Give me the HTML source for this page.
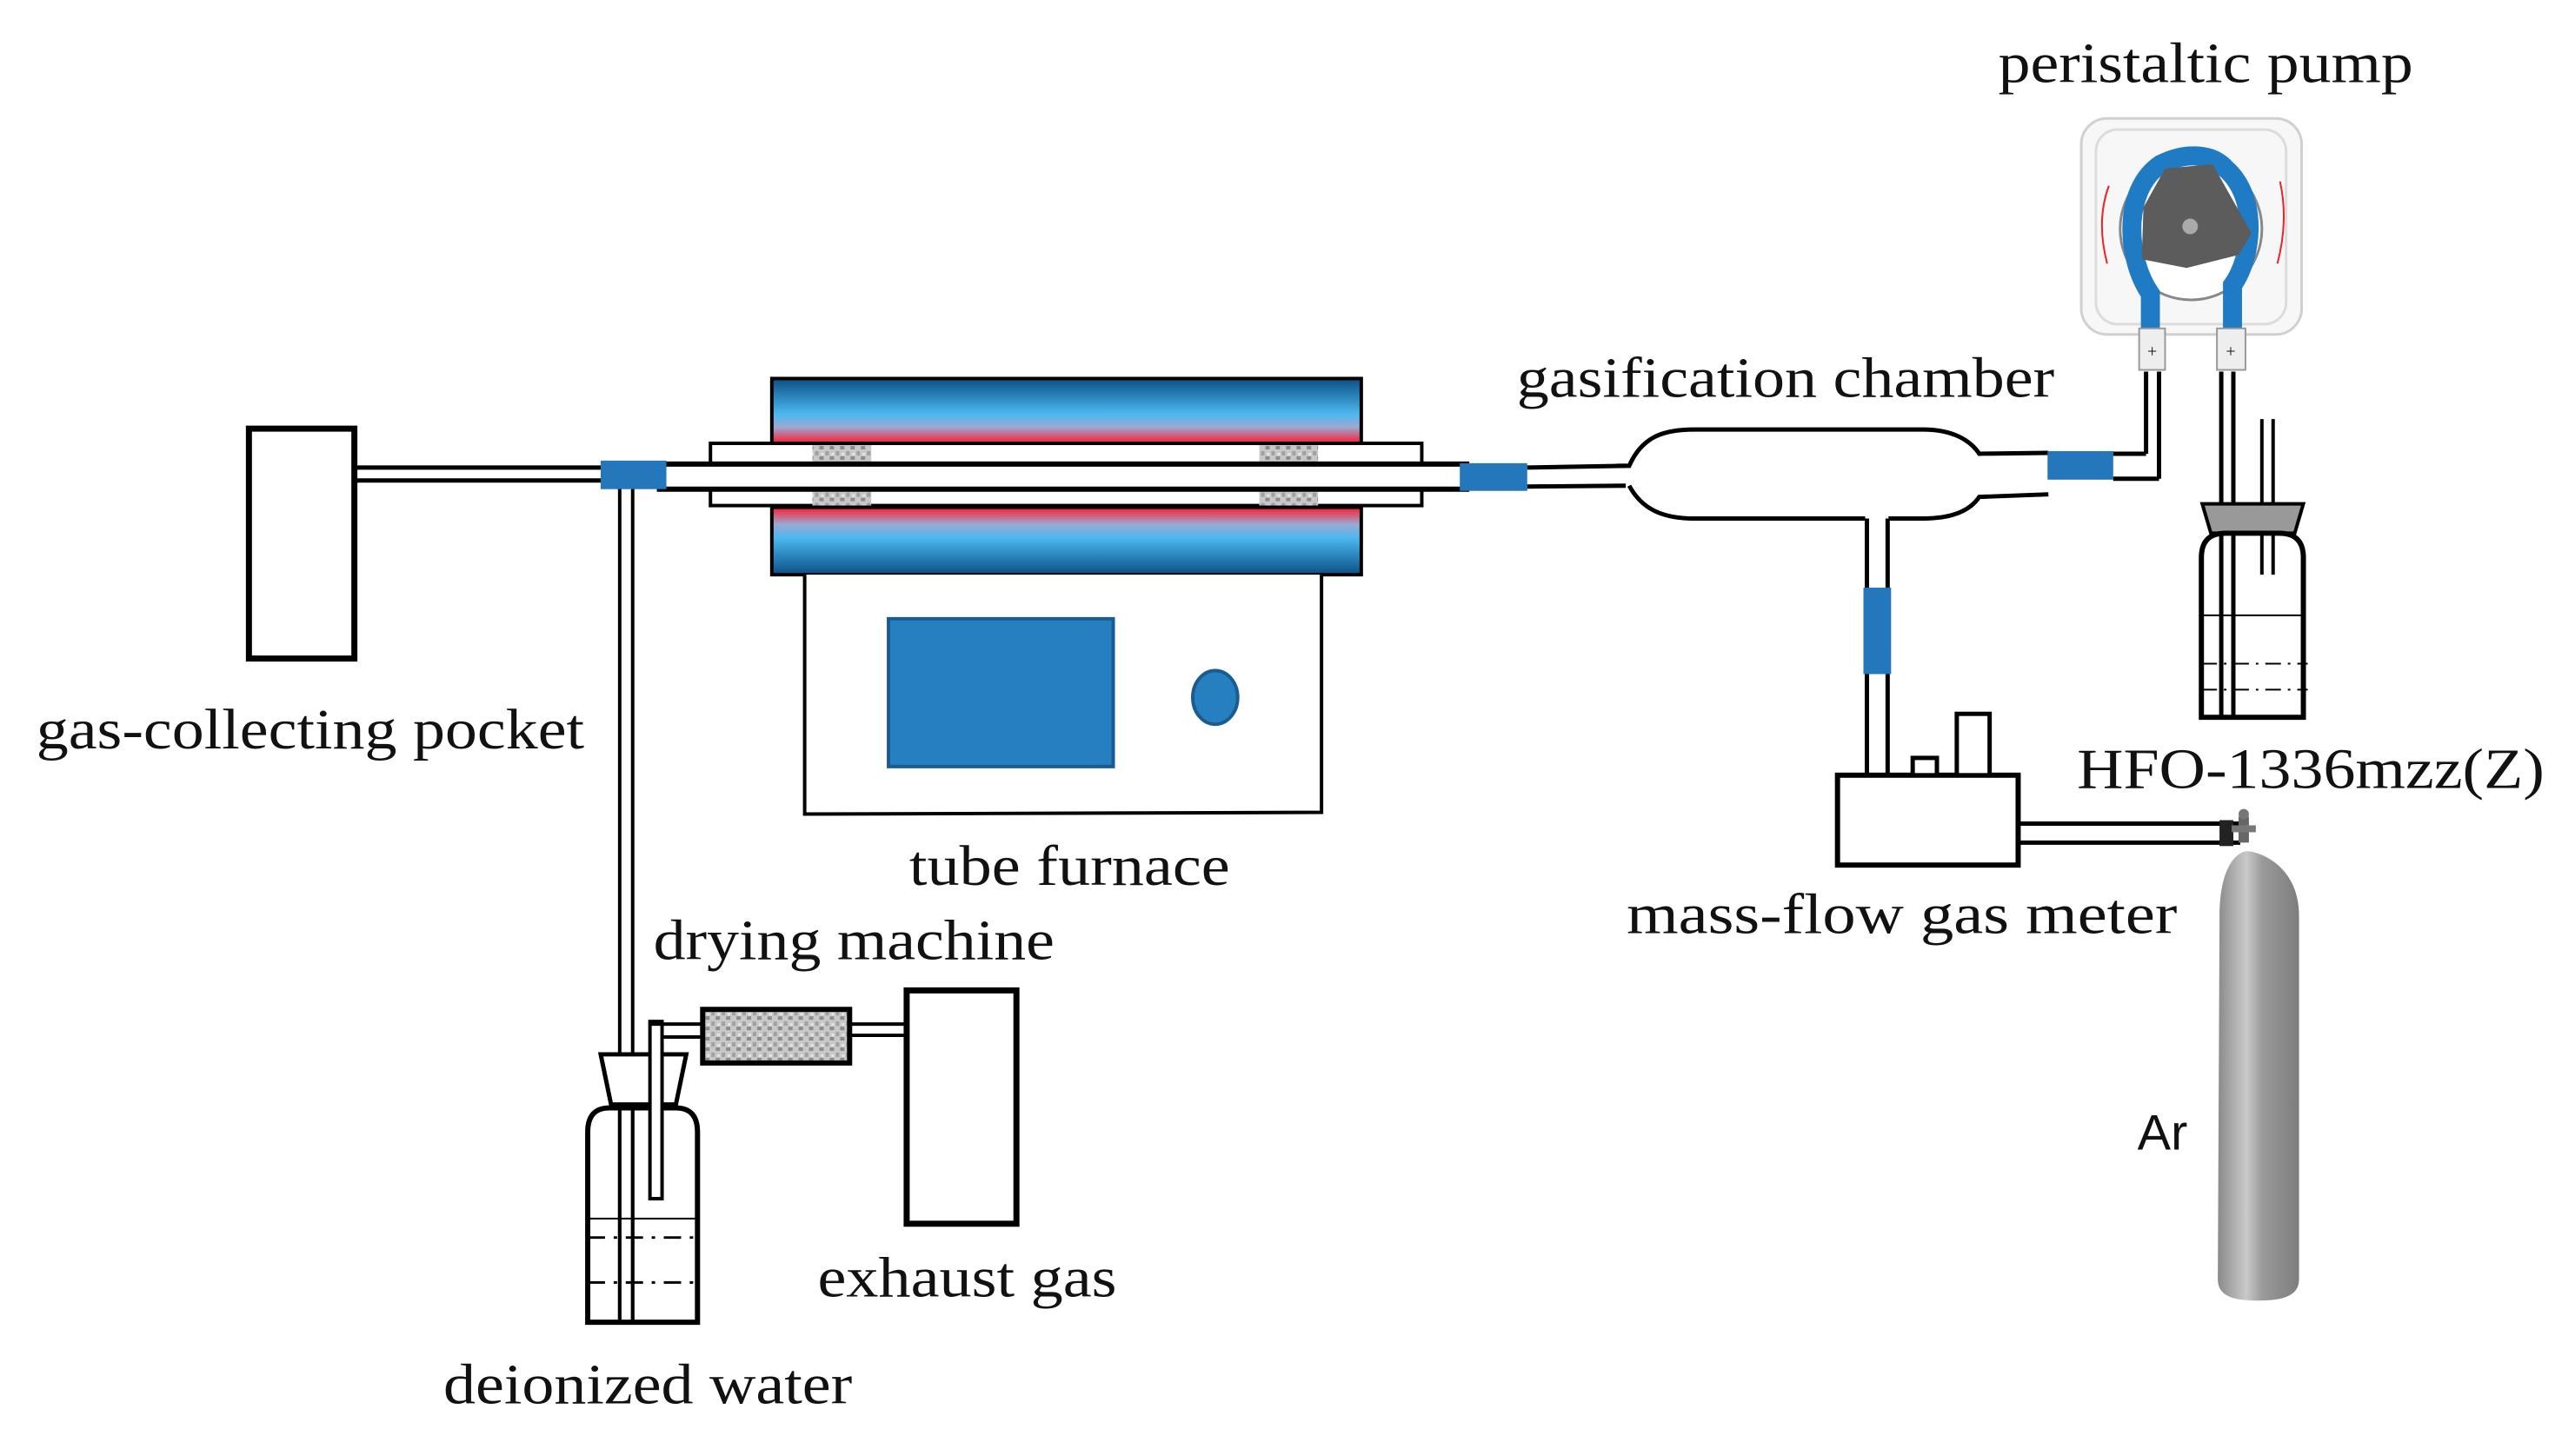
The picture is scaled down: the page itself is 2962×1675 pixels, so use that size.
<!DOCTYPE html>
<html><head><meta charset="utf-8"><style>
html,body{margin:0;padding:0;background:#fff;}
svg{display:block;}
text{font-family:"Liberation Serif",serif;font-size:66px;fill:#111;}
</style></head><body>
<svg width="2962" height="1675" viewBox="0 0 2962 1675" xmlns="http://www.w3.org/2000/svg">
<defs>
<linearGradient id="ftop" x1="0" y1="0" x2="0" y2="1">
<stop offset="0" stop-color="#0b4f86"/><stop offset="0.55" stop-color="#4db8f0"/><stop offset="0.75" stop-color="#9aa9d2"/><stop offset="1" stop-color="#ff1a2e"/></linearGradient>
<linearGradient id="fbot" x1="0" y1="1" x2="0" y2="0">
<stop offset="0" stop-color="#0b4f86"/><stop offset="0.55" stop-color="#4db8f0"/><stop offset="0.75" stop-color="#9aa9d2"/><stop offset="1" stop-color="#ff1a2e"/></linearGradient>
<linearGradient id="cyl" x1="0" y1="0" x2="1" y2="0">
<stop offset="0" stop-color="#8a8a8a"/><stop offset="0.35" stop-color="#c9c9c9"/><stop offset="0.55" stop-color="#9a9a9a"/><stop offset="1" stop-color="#7d7d7d"/></linearGradient>
<pattern id="grain" width="12" height="12" patternUnits="userSpaceOnUse">
<rect width="12" height="12" fill="#c8c8c8"/><rect x="0" y="0" width="5" height="4" fill="#8c8c8c"/><rect x="7" y="6" width="4" height="5" fill="#a0a0a0"/><rect x="2" y="8" width="3" height="3" fill="#e5e5e5"/></pattern>
</defs>
<g transform="scale(0.9942)">
<!-- gas-collecting pocket -->
<rect x="288" y="496" width="122" height="266" fill="#fff" stroke="#000" stroke-width="7"/>
<line x1="410" y1="541" x2="700" y2="541" stroke="#000" stroke-width="5"/>
<line x1="410" y1="556" x2="700" y2="556" stroke="#000" stroke-width="5"/>

<line x1="717" y1="560" x2="717" y2="1529" stroke="#000" stroke-width="4"/>
<line x1="732" y1="560" x2="732" y2="1529" stroke="#000" stroke-width="4"/>

<rect x="822" y="513" width="823" height="72" fill="#fff" stroke="#000" stroke-width="4"/>
<rect x="940" y="513" width="68" height="22" fill="url(#grain)"/>
<rect x="940" y="566" width="68" height="19" fill="url(#grain)"/>
<rect x="1457" y="513" width="68" height="22" fill="url(#grain)"/>
<rect x="1457" y="566" width="68" height="19" fill="url(#grain)"/>
<rect x="760" y="537" width="940" height="29" fill="#fff"/>
<line x1="760" y1="537" x2="1700" y2="537" stroke="#000" stroke-width="6"/>
<line x1="760" y1="566" x2="1700" y2="566" stroke="#000" stroke-width="6"/>

<rect x="893" y="438" width="682" height="75" fill="url(#ftop)" stroke="#000" stroke-width="4"/>
<rect x="893" y="587" width="682" height="78" fill="url(#fbot)" stroke="#000" stroke-width="4"/>
<path d="M931 665 L931 942 L1529 940 L1529 665" fill="#fff" stroke="#000" stroke-width="4"/>
<rect x="1028" y="716" width="260" height="171" fill="#2680c0" stroke="#1a5c91" stroke-width="4"/>
<ellipse cx="1406" cy="807" rx="26" ry="31" fill="#2680c0" stroke="#1a5c91" stroke-width="4"/>

<rect x="695" y="533" width="76" height="33" fill="#2377ba"/>
<rect x="1689" y="536" width="78" height="32" fill="#2377ba"/>

<line x1="1767" y1="541" x2="1881" y2="539" stroke="#000" stroke-width="5"/>
<line x1="1767" y1="563" x2="1881" y2="562" stroke="#000" stroke-width="5"/>
<path d="M1870 539 L1885 539 C1900 505 1925 497 1960 497 L2225 497 C2260 497 2280 510 2290 525 L2370 524
 M1885 562 C1900 590 1925 600 1960 600 L2158 600 M2185 600 L2225 600 C2260 600 2280 590 2290 575 L2370 572"
 fill="none" stroke="#000" stroke-width="5"/>
<rect x="2369" y="522" width="76" height="33" fill="#2377ba"/>
<line x1="2445" y1="525" x2="2483" y2="525" stroke="#000" stroke-width="5"/>
<line x1="2445" y1="554" x2="2498" y2="554" stroke="#000" stroke-width="5"/>
<line x1="2483" y1="525" x2="2483" y2="430" stroke="#000" stroke-width="5"/>
<line x1="2498" y1="554" x2="2498" y2="430" stroke="#000" stroke-width="5"/>

<line x1="2160" y1="600" x2="2160" y2="897" stroke="#000" stroke-width="5"/>
<line x1="2184" y1="600" x2="2184" y2="897" stroke="#000" stroke-width="5"/>
<rect x="2156" y="680" width="32" height="100" fill="#2377ba"/>

<rect x="2126" y="897" width="209" height="104" fill="#fff" stroke="#000" stroke-width="6"/>
<rect x="2213" y="877" width="28" height="20" fill="#fff" stroke="#000" stroke-width="5"/>
<rect x="2264" y="826" width="38" height="71" fill="#fff" stroke="#000" stroke-width="5"/>
<line x1="2335" y1="953" x2="2592" y2="953" stroke="#000" stroke-width="5"/>
<line x1="2335" y1="975" x2="2592" y2="975" stroke="#000" stroke-width="5"/>
<rect x="2568" y="949" width="16" height="30" fill="#222"/>

<rect x="2590" y="945" width="12" height="30" fill="#666"/>
<rect x="2582" y="955" width="28" height="8" fill="#777"/>
<circle cx="2596" cy="942" r="6" fill="#777"/>
<path d="M2568 1060 C2568 1000 2590 985 2600 985 C2612 985 2660 1000 2660 1060 L2660 1480 C2660 1498 2645 1505 2612 1505 C2580 1505 2566 1498 2566 1480 Z" fill="url(#cyl)"/>

<rect x="2408" y="137" width="255" height="250" rx="30" fill="#f7f7f7" stroke="#d0d0d0" stroke-width="3"/>
<rect x="2425" y="150" width="220" height="225" rx="25" fill="none" stroke="#dcdcdc" stroke-width="3"/>
<circle cx="2535" cy="265" r="82" fill="#fff" stroke="#888" stroke-width="3"/>
<path d="M2488 380 L2488 340 C2460 300 2455 220 2500 190 C2530 175 2560 178 2575 195 C2615 230 2605 300 2583 330 L2583 380" fill="none" stroke="#1f7bc4" stroke-width="22"/>
<path d="M2505 195 L2560 190 L2605 270 L2590 295 L2530 310 L2478 300 L2480 240 Z" fill="#5c5c5c"/>
<circle cx="2534" cy="262" r="9" fill="#aaa"/>
<path d="M2440 215 Q2425 255 2438 305" fill="none" stroke="#e22" stroke-width="2"/>
<path d="M2638 210 Q2648 255 2635 305" fill="none" stroke="#e22" stroke-width="2"/>
<rect x="2475" y="380" width="30" height="48" fill="#eee" stroke="#999" stroke-width="2"/>
<rect x="2565" y="380" width="33" height="48" fill="#eee" stroke="#999" stroke-width="2"/>
<text x="2490" y="413" text-anchor="middle" style="font-size:20px">+</text>
<text x="2581" y="413" text-anchor="middle" style="font-size:20px">+</text>
<line x1="2570" y1="430" x2="2570" y2="830" stroke="#000" stroke-width="5"/>
<line x1="2584" y1="430" x2="2584" y2="830" stroke="#000" stroke-width="5"/>

<line x1="2617" y1="485" x2="2617" y2="665" stroke="#000" stroke-width="4"/>
<line x1="2630" y1="485" x2="2630" y2="665" stroke="#000" stroke-width="4"/>
<path d="M2548 583 L2665 583 L2655 617 L2558 617 Z" fill="#999" stroke="#000" stroke-width="4"/>
<path d="M2547 830 L2547 645 Q2547 617 2575 617 L2637 617 Q2665 617 2665 645 L2665 830 Z" fill="none" stroke="#000" stroke-width="6"/>
<line x1="2547" y1="712" x2="2665" y2="712" stroke="#000" stroke-width="2"/>
<line x1="2547" y1="768" x2="2670" y2="768" stroke="#000" stroke-width="2" stroke-dasharray="18 8 3 8"/>
<line x1="2547" y1="798" x2="2670" y2="798" stroke="#000" stroke-width="2" stroke-dasharray="18 8 3 8"/>

<path d="M695 1220 L794 1220 L782 1278 L707 1278 Z" fill="#fff" stroke="#000" stroke-width="5"/>
<path d="M680 1530 L680 1310 Q680 1282 705 1282 L782 1282 Q807 1282 807 1310 L807 1530 Z" fill="none" stroke="#000" stroke-width="6"/>
<rect x="752" y="1182" width="14" height="205" fill="#fff" stroke="#000" stroke-width="4"/>
<line x1="680" y1="1410" x2="807" y2="1410" stroke="#000" stroke-width="2"/>
<line x1="680" y1="1432" x2="807" y2="1432" stroke="#000" stroke-width="3" stroke-dasharray="20 10 4 10"/>
<line x1="680" y1="1484" x2="810" y2="1484" stroke="#000" stroke-width="3" stroke-dasharray="20 10 4 10"/>
<line x1="717" y1="1282" x2="717" y2="1530" stroke="#000" stroke-width="4"/>
<line x1="732" y1="1282" x2="732" y2="1530" stroke="#000" stroke-width="4"/>
<path d="M752 1185 L820 1185 M766 1200 L820 1200" stroke="#000" stroke-width="4"/>
<rect x="813" y="1168" width="170" height="62" fill="url(#grain)" stroke="#000" stroke-width="6"/>
<line x1="983" y1="1185" x2="1048" y2="1185" stroke="#000" stroke-width="4"/>
<line x1="983" y1="1198" x2="1048" y2="1198" stroke="#000" stroke-width="4"/>
<rect x="1049" y="1146" width="127" height="270" fill="#fff" stroke="#000" stroke-width="7"/>

<text x="2312" y="95" textLength="480" lengthAdjust="spacingAndGlyphs">peristaltic pump</text>
<text x="1755" y="459" textLength="622" lengthAdjust="spacingAndGlyphs">gasification chamber</text>
<text x="42" y="866" textLength="634" lengthAdjust="spacingAndGlyphs">gas-collecting pocket</text>
<text x="1052" y="1024" textLength="371" lengthAdjust="spacingAndGlyphs">tube furnace</text>
<text x="756" y="1110" textLength="464" lengthAdjust="spacingAndGlyphs">drying machine</text>
<text x="1882" y="1080" textLength="637" lengthAdjust="spacingAndGlyphs">mass-flow  gas meter</text>
<text x="2403" y="912" textLength="541" lengthAdjust="spacingAndGlyphs">HFO-1336mzz(Z)</text>
<text x="946" y="1500" textLength="346" lengthAdjust="spacingAndGlyphs">exhaust gas</text>
<text x="513" y="1624" textLength="473" lengthAdjust="spacingAndGlyphs">deionized water</text>
<text x="2473" y="1330" style="font-family:'Liberation Sans',sans-serif;font-size:58px">Ar</text>
</g>
</svg>
</body></html>
